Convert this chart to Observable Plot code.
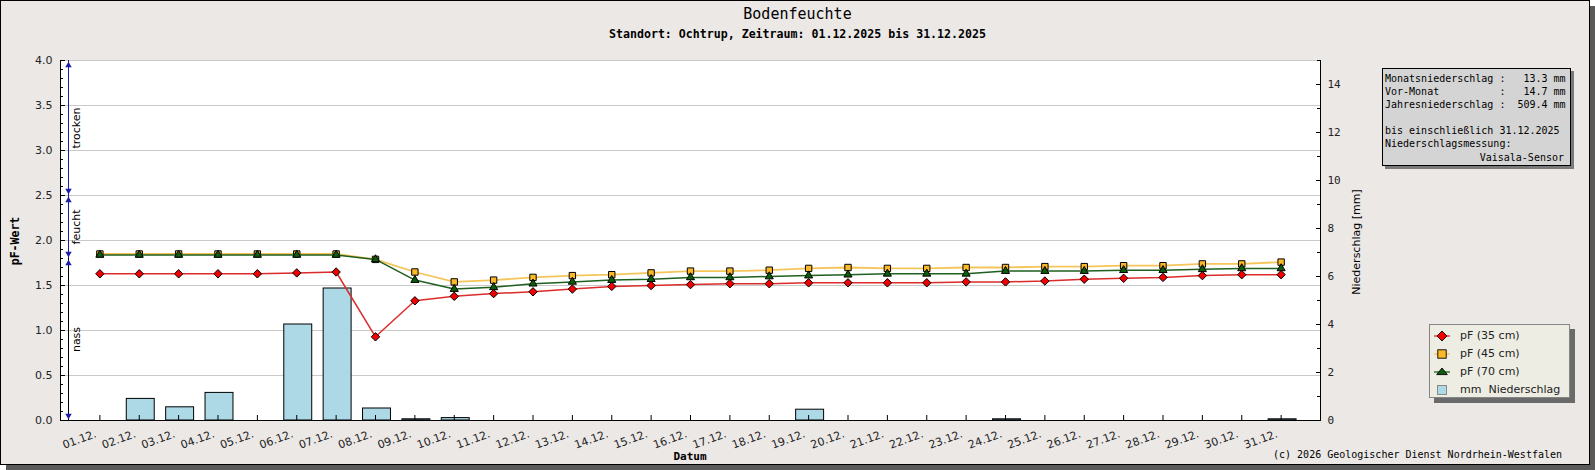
<!DOCTYPE html>
<html><head><meta charset="utf-8">
<script src="https://cdn.jsdelivr.net/npm/d3@7"></script>
<script src="https://cdn.jsdelivr.net/npm/@observablehq/plot@0.6"></script>
<style>
body{margin:0;background:#fff;}
#wrap{position:relative;width:1595px;height:470px;font-family:"DejaVu Sans",sans-serif;color:#000;}
#shadow{position:absolute;left:6px;top:6px;width:1589px;height:464px;background:#5a5a5a;}
#frame{position:absolute;left:0;top:0;width:1590px;height:465px;box-sizing:border-box;border:1px solid #000;background:#ebe8e6;}
#chart{position:absolute;left:0;top:0;}
.abs{position:absolute;white-space:pre;}
.mono{font-family:"DejaVu Sans Mono",monospace;}
#title{left:0;width:1595px;top:6.6px;text-align:center;font-size:15px;line-height:15px;}
#subtitle{left:0;width:1595px;top:28.5px;text-align:center;font-size:11.6px;line-height:11.6px;font-weight:bold;}
#info{left:1382px;top:68px;width:189px;height:98px;box-sizing:border-box;border:1px solid #000;background:#d4d4d4;box-shadow:3px 3px 0 #7a7a7a;padding:3px 0 0 2px;font-size:10px;line-height:13.1px;}
#info .r{text-align:right;padding-right:6px;}
#legend{left:1429px;top:324px;width:141px;height:74px;box-sizing:border-box;border:1px solid #858585;background:#edede3;box-shadow:5px 5px 0 #6a6a6a;padding-top:2px;font-size:11px;color:#222;}
#legend .row{display:flex;align-items:center;height:17.9px;}
#legend svg{flex:none;}
#copy{right:33px;top:450px;font-size:10px;line-height:10px;}
#datum{left:590px;width:200px;text-align:center;top:450.5px;font-size:11px;line-height:11px;font-weight:bold;}
.rot{transform:translate(-50%,-50%) rotate(-90deg);}
#ylab{left:15px;top:241px;font-size:11.5px;line-height:12px;font-weight:bold;}
#y2lab{left:1357px;top:242px;font-size:11px;line-height:12px;}
</style>
</head><body>
<div id="wrap">
  <div id="shadow"></div>
  <div id="frame"></div>
  <div id="chart"></div>
</div>
<script>
// ---------- data ----------
const dayLabels = ["01.12.","02.12.","03.12.","04.12.","05.12.","06.12.","07.12.","08.12.","09.12.","10.12.",
  "11.12.","12.12.","13.12.","14.12.","15.12.","16.12.","17.12.","18.12.","19.12.","20.12.",
  "21.12.","22.12.","23.12.","24.12.","25.12.","26.12.","27.12.","28.12.","29.12.","30.12.","31.12."];
const pf35 = [1.63,1.63,1.63,1.63,1.63,1.64,1.65,0.93,1.33,1.38,1.41,1.43,1.46,1.49,1.50,1.51,1.52,1.52,1.53,1.53,
  1.53,1.53,1.54,1.54,1.55,1.57,1.58,1.59,1.61,1.62,1.62];
const pf45 = [1.85,1.85,1.85,1.85,1.85,1.85,1.85,1.79,1.65,1.54,1.56,1.59,1.61,1.62,1.64,1.66,1.66,1.67,1.69,1.70,
  1.69,1.69,1.70,1.70,1.71,1.71,1.72,1.72,1.74,1.74,1.76];
const pf70 = [1.84,1.84,1.84,1.84,1.84,1.84,1.84,1.79,1.56,1.46,1.48,1.52,1.54,1.56,1.57,1.59,1.59,1.60,1.61,1.62,
  1.63,1.63,1.63,1.66,1.66,1.66,1.67,1.67,1.68,1.69,1.69];
const rainMm = [0,0.9,0.55,1.15,0,4.0,5.5,0.5,0.05,0.1,0,0,0,0,0,0,0,0,0.45,0,
  0,0,0,0.05,0,0,0,0,0,0,0.05];
const leftTicks = [0,0.5,1,1.5,2,2.5,3,3.5,4];
const leftMinor = d3.range(0, 41).map(i => i/10).filter(v => Math.round(v*10) % 5 !== 0);
const rightTicks = [0,2,4,6,8,10,12,14];
const rightMinor = [1,3,5,7,9,11,13,15];
const zoneLabels = ["trocken","feucht","nass"];
const zoneBounds = [4.0, 2.5, 1.8, 0.0];
const xDomain = [0, 32];
const PF_MAX = 4, MM_MAX = 15;
const titleText = "Bodenfeuchte";
const subtitleText = "Standort: Ochtrup, Zeitraum: 01.12.2025 bis 31.12.2025";
const infoLines = ["Monatsniederschlag :   13.3 mm","Vor-Monat          :   14.7 mm","Jahresniederschlag :  509.4 mm","","bis einschließlich 31.12.2025","Niederschlagsmessung:"];
const infoRight = "Vaisala-Sensor";
const legendLabels = ["pF (35 cm)","pF (45 cm)","pF (70 cm)","mm  Niederschlag"];
const copyText = "(c) 2026 Geologischer Dienst Nordrhein-Westfalen";

// ---------- build ----------
const mmToPf = v => v * PF_MAX / MM_MAX;
const table = dayLabels.map((lab, i) => ({day: i + 1, label: lab, pf35: pf35[i], pf45: pf45[i], pf70: pf70[i], mm: rainMm[i]}));
const zones = zoneLabels.map((l, i) => ({label: l, hi: zoneBounds[i], lo: zoneBounds[i+1], idx: i}));

const blue = "#1c1ca8";
const C = {
  l35: "#dc2b2b", f35: "#f00000",
  l45: "#f5c55a", f45: "#fbb928",
  l70: "#1f5f1f", f70: "#0b5c0b"
};

const chart = Plot.plot({
  width: 1595, height: 470,
  marginLeft: 60, marginRight: 275, marginTop: 60, marginBottom: 50,
  x: {domain: xDomain},
  y: {domain: [0, PF_MAX]},
  color: {type: "identity"},
  style: {fontFamily: "DejaVu Sans", fontSize: "11px", background: "transparent", overflow: "visible"},
  marks: [
    Plot.frame({fill: "#fff", stroke: "none"}),
    Plot.gridY({ticks: leftTicks.filter(t => t > 0), stroke: "#c9c9c9", strokeOpacity: 1}),
    Plot.rect(table.filter(d => d.mm > 0), {
      x1: d => d.day - 0.355, x2: d => d.day + 0.355, y1: 0, y2: d => mmToPf(d.mm),
      fill: "#add8e6", stroke: "#000", strokeWidth: 1, dx: 1.5
    }),
    // zone indicator
    Plot.ruleX(zones, {x: () => xDomain[0], y1: "hi", y2: "lo", dx: 8, stroke: d => d.idx < 2 ? blue : "#000", strokeWidth: 1}),
    Plot.dot(zones, {x: () => xDomain[0], y: "hi", dx: 8, dy: 5, symbol: "triangle", r: 2.4, fill: blue, stroke: "none"}),
    Plot.dot(zones, {x: () => xDomain[0], y: "lo", dx: 8, dy: -5, symbol: "triangle", rotate: 180, r: 2.4, fill: blue, stroke: "none"}),
    Plot.text(zones, {x: () => xDomain[0], y: d => (d.hi + d.lo) / 2, text: "label", dx: 16, rotate: -90, fontSize: 11, fill: "#000"}),
    // series
    Plot.line(table, {x: "day", y: "pf45", stroke: C.l45, strokeWidth: 1.8}),
    Plot.dot(table, {x: "day", y: "pf45", symbol: "square", r: 3.6, fill: C.f45, stroke: "#000", strokeWidth: 1}),
    Plot.line(table, {x: "day", y: "pf70", stroke: C.l70, strokeWidth: 1.5}),
    Plot.dot(table, {x: "day", y: "pf70", symbol: "triangle", r: 3.0, fill: C.f70, stroke: "#000", strokeWidth: 1}),
    Plot.line(table, {x: "day", y: "pf35", stroke: C.l35, strokeWidth: 1.5}),
    Plot.dot(table, {x: "day", y: "pf35", symbol: "diamond2", r: 3.8, fill: C.f35, stroke: "#000", strokeWidth: 1}),
    // axis lines
    Plot.ruleX(xDomain, {stroke: "#000"}),
    Plot.ruleY([0], {stroke: "#000"}),
    // axes
    Plot.axisY({ticks: leftTicks, tickSize: -5, tickPadding: 13, tickFormat: d3.format(".1f"), label: null, fill: "#222", fontSize: 11}),
    Plot.axisY({ticks: leftMinor, tickSize: -3, tickFormat: () => "", label: null}),
    Plot.axisY({anchor: "right", ticks: rightTicks.map(mmToPf), tickSize: -5, tickPadding: 12,
      tickFormat: d => String(Math.round(d * MM_MAX / PF_MAX)), label: null, fontFamily: "DejaVu Sans Mono", fontSize: 11, fill: "#222"}),
    Plot.axisY({anchor: "right", ticks: rightMinor.map(mmToPf), tickSize: -4, tickFormat: () => "", label: null}),
    Plot.axisX({ticks: table.map(d => d.day), tickSize: -5, tickFormat: () => "", label: null}),
    Plot.axisX({ticks: table.map(d => d.day), tickSize: 0, tickPadding: 13, tickRotate: -20, textAnchor: "end", lineAnchor: "middle",
      dx: -4, tickFormat: d => dayLabels[d - 1], label: null, fontSize: 11, fill: "#222"})
  ]
});
document.getElementById("chart").appendChild(chart);

// ---------- HTML overlays ----------
const wrap = d3.select("#wrap");
wrap.append("div").attr("id", "title").attr("class", "abs mono").text(titleText);
wrap.append("div").attr("id", "subtitle").attr("class", "abs mono").text(subtitleText);
const info = wrap.append("div").attr("id", "info").attr("class", "abs mono");
infoLines.forEach(l => info.append("div").text(l === "" ? "\u00a0" : l));
info.append("div").attr("class", "r").text(infoRight);

const legend = wrap.append("div").attr("id", "legend").attr("class", "abs");
const icons = [
  {line: C.l35, draw: s => s.append("polygon").attr("points", "12,4 17,9 12,14 7,9").attr("fill", C.f35)},
  {line: C.l45, draw: s => s.append("rect").attr("x", 7.8).attr("y", 4.8).attr("width", 8.4).attr("height", 8.4).attr("fill", C.f45)},
  {line: C.l70, draw: s => s.append("polygon").attr("points", "12,5 17.3,11.6 6.7,11.6").attr("fill", C.f70)},
  {line: null, draw: s => s.append("rect").attr("x", 7.5).attr("y", 4.5).attr("width", 9).attr("height", 9).attr("fill", "#add8e6").attr("stroke", "#8a8a8a")}
];
legendLabels.forEach((lab, i) => {
  const row = legend.append("div").attr("class", "row");
  const s = row.append("svg").attr("width", 30).attr("height", 18);
  if (icons[i].line) s.append("line").attr("x1", 4).attr("x2", 20).attr("y1", 9).attr("y2", 9).attr("stroke", icons[i].line).attr("stroke-width", 1.3);
  const sh = icons[i].draw(s);
  if (icons[i].line) sh.attr("stroke", "#000").attr("stroke-width", 0.9);
  row.append("span").style("white-space", "pre").text(lab);
});

wrap.append("div").attr("id", "copy").attr("class", "abs mono").text(copyText);
wrap.append("div").attr("id", "datum").attr("class", "abs mono").text("Datum");
wrap.append("div").attr("id", "ylab").attr("class", "abs mono rot").text("pF-Wert");
wrap.append("div").attr("id", "y2lab").attr("class", "abs rot").text("Niederschlag [mm]");
</script>
</body></html>
